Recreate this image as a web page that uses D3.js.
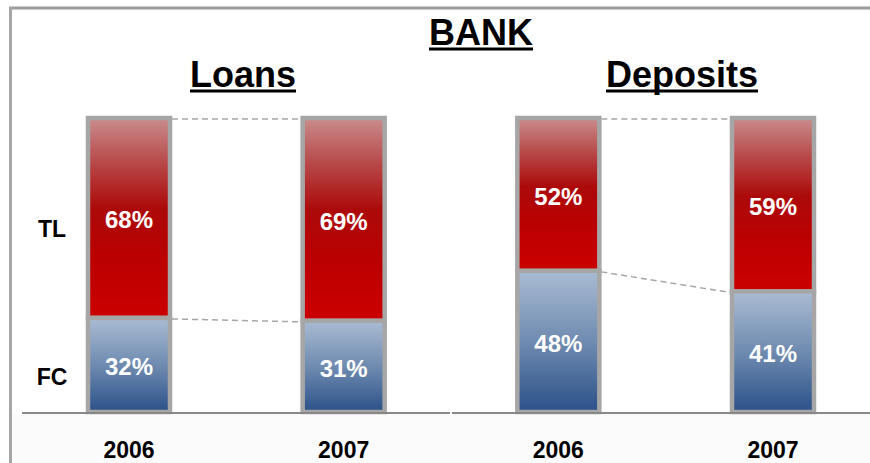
<!DOCTYPE html>
<html>
<head>
<meta charset="utf-8">
<script src="https://cdn.jsdelivr.net/npm/d3@7"></script>
<style>
  body { margin: 0; background: #fff; }
  svg { display: block; font-family: Arial, "Liberation Sans", sans-serif; }
</style>
</head>
<body>
<script>
const title = "BANK"
const panels = ["Loans", "Deposits"]
const years = ["2006", "2007"]
const rowLabels = ["TL", "FC"]
const loansFC = [32, 31]
const loansTL = [68, 69]
const depositsFC = [48, 41]
const depositsTL = [52, 59]

const width = 870
const height = 463

// one record per bar
const bars = []
panels.forEach((p, pi) => {
  const fc = pi === 0 ? loansFC : depositsFC
  const tl = pi === 0 ? loansTL : depositsTL
  years.forEach((yr, yi) => {
    bars.push({ key: p + yr, panel: p, year: yr, fc: fc[yi], tl: tl[yi] })
  })
})

const svg = d3.select("body")
  .append("svg")
  .attr("width", width)
  .attr("height", height)

const defs = svg.append("defs")
const red = defs.append("linearGradient")
  .attr("id", "red").attr("x1", 0).attr("y1", 0).attr("x2", 0).attr("y2", 1)
red.append("stop").attr("offset", "0%").attr("stop-color", "#c98c8c")
red.append("stop").attr("offset", "22%").attr("stop-color", "#b84a4a")
red.append("stop").attr("offset", "45%").attr("stop-color", "#ac0a0a")
red.append("stop").attr("offset", "70%").attr("stop-color", "#bb0000")
red.append("stop").attr("offset", "100%").attr("stop-color", "#cc0000")

const blue = defs.append("linearGradient")
  .attr("id", "blue").attr("x1", 0).attr("y1", 0).attr("x2", 0).attr("y2", 1)
blue.append("stop").attr("offset", "0%").attr("stop-color", "#aabcd3")
blue.append("stop").attr("offset", "50%").attr("stop-color", "#6f8bb0")
blue.append("stop").attr("offset", "100%").attr("stop-color", "#2b5189")

// light strip below the axis
svg.append("rect")
  .attr("x", 12).attr("y", 414)
  .attr("width", width - 12).attr("height", height - 414)
  .attr("fill", "#fbfbfb")

// frame
svg.append("line")
  .attr("x1", 9).attr("x2", width).attr("y1", 8).attr("y2", 8)
  .attr("stroke", "#9c9c9c").attr("stroke-width", 3)
svg.append("line")
  .attr("x1", 10.5).attr("x2", 10.5).attr("y1", 7).attr("y2", height)
  .attr("stroke", "#a6a6a6").attr("stroke-width", 3)

const x = d3.scalePoint()
  .domain(bars.map(d => d.key))
  .range([129, 773])

const y = d3.scaleLinear()
  .domain([0, 100])
  .range([412, 118])

const barW = 82

// dashed connectors
panels.forEach(p => {
  const pb = bars.filter(d => d.panel === p)
  const a = pb[0], b = pb[1]
  const conn = [[100, 100], [a.fc, b.fc]]
  conn.forEach(c => {
    svg.append("line")
      .attr("x1", x(a.key) + barW / 2 + 2).attr("x2", x(b.key) - barW / 2 - 2)
      .attr("y1", y(c[0]) + 1).attr("y2", y(c[1]) + 1)
      .attr("stroke", "#a6a6a6")
      .attr("stroke-width", 1.5)
      .attr("stroke-dasharray", "6,4")
  })
})

const g = svg.append("g")
  .selectAll("g")
  .data(bars)
  .join("g")

g.append("rect")
  .attr("x", d => x(d.key) - barW / 2)
  .attr("y", d => y(100))
  .attr("width", barW)
  .attr("height", d => y(d.fc) - y(100))
  .attr("fill", "url(#red)")
  .attr("stroke", "#a6a6a6")
  .attr("stroke-width", 4.5)

g.append("rect")
  .attr("x", d => x(d.key) - barW / 2)
  .attr("y", d => y(d.fc))
  .attr("width", barW)
  .attr("height", d => y(0) - y(d.fc))
  .attr("fill", "url(#blue)")
  .attr("stroke", "#a6a6a6")
  .attr("stroke-width", 4.5)

g.append("text")
  .attr("x", d => x(d.key))
  .attr("y", d => (y(100) + y(d.fc)) / 2 + 4)
  .attr("text-anchor", "middle")
  .attr("dominant-baseline", "middle")
  .attr("fill", "#fff")
  .attr("font-weight", "bold")
  .attr("font-size", 24)
  .text(d => d.tl + "%")

g.append("text")
  .attr("x", d => x(d.key))
  .attr("y", d => (y(d.fc) + y(0)) / 2 + 4)
  .attr("text-anchor", "middle")
  .attr("dominant-baseline", "middle")
  .attr("fill", "#fff")
  .attr("font-weight", "bold")
  .attr("font-size", 24)
  .text(d => d.fc + "%")

// baseline with a small break between panels
svg.append("line")
  .attr("x1", 22).attr("x2", 450).attr("y1", 413).attr("y2", 413)
  .attr("stroke", "#888").attr("stroke-width", 2)
svg.append("line")
  .attr("x1", 452).attr("x2", width).attr("y1", 413).attr("y2", 413)
  .attr("stroke", "#888").attr("stroke-width", 2)

// year labels
svg.append("g")
  .selectAll("text")
  .data(bars)
  .join("text")
  .attr("x", d => x(d.key))
  .attr("y", 458)
  .attr("text-anchor", "middle")
  .attr("font-weight", "bold")
  .attr("font-size", 23)
  .attr("fill", "#000")
  .text(d => d.year)

// row labels
svg.append("g")
  .selectAll("text")
  .data(rowLabels)
  .join("text")
  .attr("x", 52)
  .attr("y", (d, i) => i === 0 ? 237 : 385)
  .attr("text-anchor", "middle")
  .attr("font-weight", "bold")
  .attr("font-size", 23)
  .text(d => d)

// titles with underline
function heading(txt, cx, base) {
  const t = svg.append("text")
    .attr("x", cx).attr("y", base)
    .attr("text-anchor", "middle")
    .attr("font-weight", "bold")
    .attr("font-size", 36)
    .text(txt)
  const w = t.node().getComputedTextLength()
  svg.append("line")
    .attr("x1", cx - w / 2).attr("x2", cx + w / 2)
    .attr("y1", base + 4).attr("y2", base + 4)
    .attr("stroke", "#000").attr("stroke-width", 3)
}

heading(title, 481, 45)
heading(panels[0], 243, 87)
heading(panels[1], 682, 87)
</script>
</body>
</html>
